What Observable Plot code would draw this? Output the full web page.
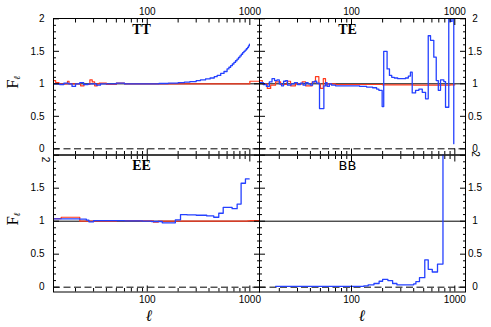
<!DOCTYPE html>
<html><head><meta charset="utf-8">
<script src="https://cdn.jsdelivr.net/npm/d3@7"></script>
<script src="https://cdn.jsdelivr.net/npm/@observablehq/plot@0.6"></script>
<style>
body{margin:0;background:#fff;}
#chart{position:relative;width:491px;height:327px;overflow:hidden;background:#fff;}
#chart svg{position:absolute;left:0;top:0;}
</style></head><body><div id="chart"></div>
<script>
// ---- data (multipole ℓ, ratio F_ℓ) ----
const ttBlueL = [12.3,13,14,15.4,17,18.5,20,22,24,26.5,29,32,35,40,50,60,80,100,130,160,200,230,260,300,330,370,410,450,480,520,560,600,625,650,675,700,725,750,775,800,825,850,875,900,925,950,970,990];
const ttBlueF = [1.0,1.0,0.99,1.01,1.0,0.96,1.0,1.02,0.99,1.0,1.0,0.98,1.0,1.0,1.01,1.0,1.0,1.0,1.005,1.01,1.02,1.025,1.035,1.05,1.06,1.075,1.09,1.11,1.13,1.16,1.19,1.23,1.255,1.28,1.305,1.33,1.355,1.38,1.405,1.43,1.455,1.48,1.5,1.52,1.54,1.56,1.585,1.61];
const ttRedL = [12.3,12.8,13.8,15.4,16.7,17.3,19.3,22.4,24.2,27.6,29.1,30.7,32.6,34,40,50,60,80,100,200,500,950,1000,1240];
const ttRedF = [1.05,1.02,1.0,1.0,1.04,1.0,1.0,0.97,0.99,1.06,1.03,0.97,1.0,1.01,0.99,1.01,1.0,1.0,1.0,1.0,1.0,1.0,1.04,1.04];

const teBlueL = [12.9,14,15,16,17,18,19,20,21,22,23,24,26,28,30,32,34,36,38,40,42,44,46,49,54,56,58,61,64,70,85,100,120,140,160,175,184,198,205,221,233,245,260,280,300,333,355,372,387,417,449,484,521,553,582,626,661,692,727,783,813,874,907,940,977];
const teBlueF = [1.02,0.99,0.96,1.03,1.08,1.05,1.06,1.0,0.97,1.04,1.05,0.98,1.0,1.02,0.99,1.01,0.98,1.02,1.0,0.98,1.03,1.04,1.01,0.62,0.97,1.02,0.96,1.0,0.98,0.97,0.97,0.97,0.96,0.95,0.94,0.92,0.9,0.65,1.5,1.23,1.13,1.1,1.09,1.08,1.08,1.09,1.12,1.18,0.86,0.9,0.92,0.87,0.77,1.74,1.67,1.41,1.05,0.9,1.06,1.035,0.64,2.6,1.96,2.6,0.08];
const teRedL = [12.9,13.7,15.3,16.5,18.4,20.6,23.8,25.7,28.7,33.3,35.9,41.6,44.8,48.3,50.1,53.3,56,58.2,70,100,200,400,700,900,1000];
const teRedF = [1.05,1.0,0.93,0.98,1.03,0.99,1.04,0.97,1.0,1.03,0.97,1.03,1.11,1.0,0.93,1.08,0.98,1.0,0.99,0.99,0.985,0.98,0.98,0.985,0.99];

const eeBlueL = [12.3,22,25.5,27,30,45,60,90,110,140,188,211,245,300,380,445,498,550,672,752,822,906,985];
const eeBlueF = [1.035,1.03,1.015,0.99,1.01,1.01,1.005,1.0,0.995,0.975,1.02,1.1,1.095,1.09,1.08,1.06,1.12,1.21,1.19,1.26,1.575,1.64,1.64];
const eeRedL = [12.3,14.5,22,50,85,115,128,500,950,1000,1240];
const eeRedF = [1.04,1.06,1.0,1.01,1.005,0.985,1.0,1.0,1.005,1.01,1.01];

const bbBlueL = [18.4,131.6,145,165,185,200,225,250,275,400,420,455,512,553,605,680,768,1000];
const bbBlueF = [0.012,0.02,0.035,0.056,0.09,0.118,0.1,0.056,0.036,0.05,0.085,0.144,0.415,0.27,0.23,0.35,5,5];

const panelTitles = ["TT","TE","EE","BB"];
const xMajor = [100,1000];
const xMinor = [20,30,40,50,60,70,80,90,200,300,400,500,600,700,800,900];
const yMajor = [0,0.5,1,1.5,2];
const yMinor = [0.1,0.2,0.3,0.4,0.6,0.7,0.8,0.9,1.1,1.2,1.3,1.4,1.6,1.7,1.8,1.9];

const BLUE = "#2440ff", RED = "#ff3a1c";

function panel({col,row,title,titleFont,blue,red,xTitleDx}) {
  const ml = col===0?53:259, mr = col===0?232:26;
  const mt = row===0?18:154.5, mb = row===0?172.5:35.5;
  const xd = col===0?[12.2,1242]:[12.86,1269];
  const yd = row===0?[-0.095,2.005]:[-0.073,2.003];
  const xa = row===0?"top":"bottom";
  const ya = col===0?"left":"right";
  const marks = [
    Plot.ruleY([1],{stroke:"black",strokeWidth:1}),
    Plot.ruleY([0],{stroke:"black",strokeWidth:1,strokeDasharray:"7,3.5"})
  ];
  if (red) marks.push(Plot.line(red.l,{x:red.l,y:red.f,curve:"step-after",stroke:RED,strokeWidth:1.2,clip:true}));
  marks.push(Plot.line(blue.l,{x:blue.l,y:blue.f,curve:"step-after",stroke:BLUE,strokeWidth:1.3,clip:true}));
  marks.push(Plot.frame({stroke:"black",strokeWidth:1}));
  for (const a of ["top","bottom"]) {
    marks.push(Plot.axisX(xMajor,{anchor:a,tickSize:-6,fill:"none",label:null,stroke:"black"}));
    marks.push(Plot.axisX(xMinor,{anchor:a,tickSize:-3.5,fill:"none",label:null,stroke:"black"}));
  }
  for (const a of ["left","right"]) {
    marks.push(Plot.axisY(yMajor,{anchor:a,tickSize:-6,fill:"none",label:null,stroke:"black"}));
    marks.push(Plot.axisY(yMinor,{anchor:a,tickSize:-3,fill:"none",label:null,stroke:"black"}));
  }
  marks.push(Plot.axisX(xMajor,{anchor:xa,tickSize:0,tickPadding:3.5,tickFormat:d=>String(d),label:null,fill:"black",fontSize:10}));
  const yl = row===0?yMajor:yMajor.filter(v=>v<2);
  if (col===0) marks.push(Plot.axisY(yl,{anchor:"left",tickSize:0,tickPadding:9,tickFormat:d=>String(d),label:null,fill:"black",fontSize:10}));
  else marks.push(Plot.axisY(yl,{anchor:"right",tickSize:0,tickPadding:9.5,textAnchor:"middle",tickFormat:d=>String(d),label:null,fill:"black",fontSize:10}));
  if (row===1) marks.push(Plot.text([2],{y:d=>d,text:d=>String(d),frameAnchor:ya,dx:col===0?-8.5:9.5,dy:1.5,rotate:90,fontSize:10,fill:"black"}));
  const serif = titleFont.includes("Serif");
  marks.push(Plot.text([title],{text:d=>d,frameAnchor:"top",dx:-15,dy:15,lineAnchor:"bottom",fontFamily:titleFont,fontWeight:serif?"bold":"normal",fontSize:serif?14:13,fill:"black"}));
  if (col===0) {
    marks.push(Plot.text(["F"],{text:d=>d,frameAnchor:"left",dx:-41,dy:2,rotate:-90,fontFamily:"Liberation Serif",fontSize:17,fill:"black"}));
    marks.push(Plot.text(["ℓ"],{text:d=>d,frameAnchor:"left",dx:-36,dy:-7,rotate:-90,fontFamily:"DejaVu Serif",fontStyle:"italic",fontWeight:"bold",fontSize:9,fill:"black"}));
  }
  if (row===1) marks.push(Plot.text(["ℓ"],{text:d=>d,frameAnchor:"bottom",dx:xTitleDx,dy:28.5,lineAnchor:"bottom",fontFamily:"DejaVu Serif",fontStyle:"italic",fontWeight:"bold",fontSize:16,fill:"black"}));
  return Plot.plot({
    width:491,height:327,marginLeft:ml,marginRight:mr,marginTop:mt,marginBottom:mb,
    style:{background:"transparent",fontFamily:"Liberation Sans",fontSize:"10px",color:"black",overflow:"visible"},
    x:{type:"log",domain:xd,axis:null},
    y:{domain:yd,axis:null},
    marks
  });
}

const el = document.getElementById("chart");
el.append(panel({col:0,row:0,title:panelTitles[0],titleFont:"Liberation Serif",blue:{l:ttBlueL,f:ttBlueF},red:{l:ttRedL,f:ttRedF}}));
el.append(panel({col:1,row:0,title:panelTitles[1],titleFont:"Liberation Serif",blue:{l:teBlueL,f:teBlueF},red:{l:teRedL,f:teRedF}}));
el.append(panel({col:0,row:1,title:panelTitles[2],titleFont:"Liberation Serif",blue:{l:eeBlueL,f:eeBlueF},red:{l:eeRedL,f:eeRedF},xTitleDx:-7}));
el.append(panel({col:1,row:1,title:panelTitles[3],titleFont:"DejaVu Sans",blue:{l:bbBlueL,f:bbBlueF},red:null,xTitleDx:0}));
</script>
</body></html>
